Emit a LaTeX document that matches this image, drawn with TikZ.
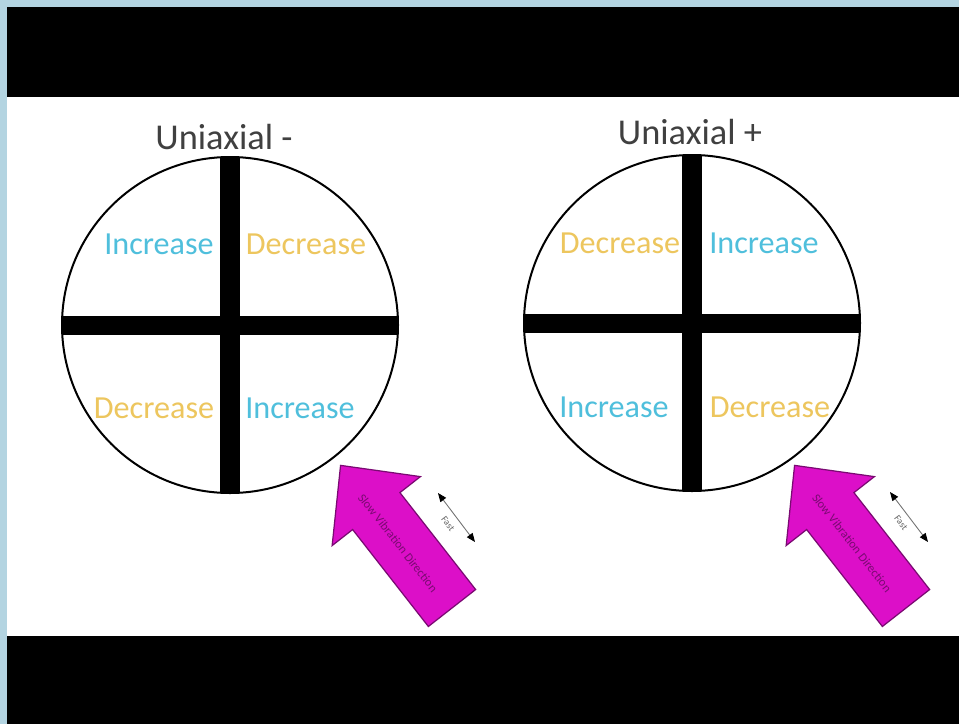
\documentclass[tikz,border=0pt]{standalone}
\usepackage{fontspec}
\setmainfont{Carlito}
\usetikzlibrary{arrows.meta}
\definecolor{frameblue}{HTML}{B3D4E1}
\definecolor{incblue}{HTML}{4FBFDC}
\definecolor{decgold}{HTML}{EDC65E}
\definecolor{platemag}{HTML}{DC0FC8}
\definecolor{platedark}{HTML}{7A0A72}

\begin{document}
\begin{tikzpicture}[x=0.02cm, y=0.02cm,
    title/.style={font=\fontsize{20.7}{24}\selectfont, text=black!75, inner sep=0pt},
    quad/.style={font=\fontsize{18.3}{22}\selectfont, text=#1, inner sep=0pt},
    rim/.style={draw=black, line width=0.04cm},
    plate/.style={draw=platedark, line width=0.7pt, fill=platemag},
    platetext/.style={font=\fontsize{7}{8}\selectfont, text=platedark, rotate=-52, inner sep=0pt},
    fastarrow/.style={draw=black!55, line width=0.5pt,
                      {Triangle[length=5pt, width=4pt, black]}-{Triangle[length=5pt, width=4pt, black]}},
    fasttext/.style={font=\fontsize{5.5}{6}\selectfont, text=black!60, rotate=-53, inner sep=0pt},
]
    % frame and bands
    \fill[frameblue] (0,0) rectangle (959,-724);
    \fill[black] (7,-7) rectangle (959,-97);
    \fill[white] (7,-97) rectangle (959,-636);
    \fill[black] (7,-636) rectangle (959,-724);
    \useasboundingbox (0,0) rectangle (959,-724);

    % the two circles with their crosses
    \foreach \cx/\cy/\nm in {230/-325/L, 692/-323/R} {
        \coordinate (c\nm) at (\cx,\cy);
        \begin{scope}
            \clip (c\nm) circle (168);
            \fill[black] (\cx-10,\cy-170) rectangle (\cx+10,\cy+170);
            \fill[black] (\cx-170,\cy-9.5) rectangle (\cx+170,\cy+9.5);
        \end{scope}
        \draw[rim] (c\nm) circle (168);
    }

    % titles
    \node[title] (titleL) at (224,-137) {Uniaxial -};
    \node[title] (titleR) at (690,-132) {Uniaxial +};

    % left quadrants
    \node[quad=incblue] (incLa) at (159,-244) {Increase};
    \node[quad=decgold] (decLa) at (306,-244) {Decrease};
    \node[quad=decgold] (decLb) at (154,-408) {Decrease};
    \node[quad=incblue] (incLb) at (300,-408) {Increase};

    % right quadrants
    \node[quad=decgold] (decRa) at (620,-243) {Decrease};
    \node[quad=incblue] (incRa) at (764,-243) {Increase};
    \node[quad=incblue] (incRb) at (614,-407) {Increase};
    \node[quad=decgold] (decRb) at (770,-407) {Decrease};

    % plate arrows
    \foreach \tx in {452, 906} {
        \begin{scope}[shift={(\tx,-608)}, rotate=128]
            \draw[plate] (0,-30) -- (123,-30) -- (123,-56) -- (181,0)
                -- (123,56) -- (123,30) -- (0,30) -- cycle;
        \end{scope}
    }
    \node[platetext] (slowL) at (398,-543) {Slow Vibration Direction};
    \node[platetext] (slowR) at (852,-543) {Slow Vibration Direction};

    % fast direction
    \coordinate (fastLa) at (438,-493);
    \coordinate (fastLb) at (475,-542);
    \coordinate (fastRa) at (890,-492);
    \coordinate (fastRb) at (928,-542);
    \draw[fastarrow] (fastLa) -- (fastLb);
    \draw[fastarrow] (fastRa) -- (fastRb);
    \node[fasttext] (fastL) at (448,-524) {Fast};
    \node[fasttext] (fastR) at (901,-523) {Fast};
\end{tikzpicture}
\end{document}
